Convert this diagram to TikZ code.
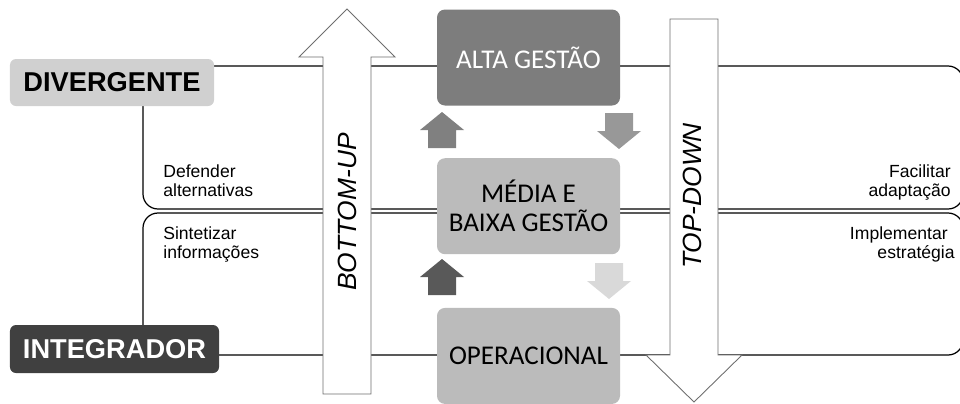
\documentclass[tikz,border=0pt]{standalone}
\usepackage{fontspec}
\setmainfont{Liberation Sans}
\newfontfamily\boxfont{Carlito}
\definecolor{altaGray}{RGB}{125,125,125}
\definecolor{mediaGray}{RGB}{187,187,187}
\definecolor{divGray}{RGB}{208,208,208}
\definecolor{intGray}{RGB}{64,64,64}
\definecolor{edgeGray}{RGB}{110,110,110}
\definecolor{upMid}{RGB}{128,128,128}
\definecolor{downMid}{RGB}{152,152,152}
\definecolor{upDark}{RGB}{89,89,89}
\definecolor{downLight}{RGB}{217,217,217}
\usetikzlibrary{positioning}

\tikzset{
  levelbox/.style={rounded corners=1.6mm, minimum width=36.6mm, minimum height=19.2mm,
    align=center, inner sep=0pt, font=\boxfont\fontsize{15.4}{16.5}\selectfont},
  rolebox/.style={rounded corners=1.2mm, inner sep=0pt, font=\bfseries\fontsize{15.5}{18}\selectfont},
  bracket/.style={draw=black, line width=0.7pt, rounded corners=3mm},
  bigarrow/.style={draw=edgeGray, fill=white, line width=0.5pt},
  note/.style={inner sep=0pt, font=\fontsize{10}{11}\selectfont},
  flowlabel/.style={inner sep=0pt, rotate=90, font=\itshape\fontsize{15}{18}\selectfont},
  upblock/.pic={\fill (-14,18) -- (-14,0) -- (-22,0) -- (0,-18) -- (22,0) -- (14,0) -- (14,18) -- cycle;}
}

\begin{document}
\begin{tikzpicture}[x=0.2mm, y=-0.2mm]
    \useasboundingbox (0,0) rectangle (960,403);
    \clip (0,0) rectangle (960,403);

    % the two bands
    \draw[bracket] (143,66) rectangle (963,209);
    \draw[bracket] (143,213) rectangle (963,355);

    % big hollow arrows
    \draw[bigarrow] (323,394) -- (323,57) -- (299,57) -- (347,9) -- (395,57) -- (371,57) -- (371,394) -- cycle;
    \draw[bigarrow] (670,19) -- (670,355) -- (646,355) -- (694,402) -- (742,355) -- (718,355) -- (718,19) -- cycle;
    \node[flowlabel] (bottomup) at (347,212) {BOTTOM-UP};
    \node[flowlabel] (topdown) at (692,196) {TOP-DOWN};

    % levels
    \node[levelbox, fill=altaGray, text=white] (alta) at (528.5,57.5) {ALTA GESTÃO};
    \node[levelbox, fill=mediaGray, below=10.4mm of alta] (media) {MÉDIA E\\BAIXA GESTÃO};
    \node[levelbox, fill=mediaGray, below=10.6mm of media] (oper) {OPERACIONAL};

    \pic[fill=upMid] at (442,130) {upblock};
    \pic[fill=downMid, rotate=180] at (619,131) {upblock};
    \pic[fill=upDark] at (442,277) {upblock};
    \pic[fill=downLight, rotate=180] at (609,281) {upblock};

    % roles
    \node[rolebox, fill=divGray, minimum width=40.8mm, minimum height=9.4mm] (div) at (112,82.5) {DIVERGENTE};
    \node[rolebox, fill=intGray, text=white, minimum width=41.8mm, minimum height=9.6mm] (int) at (114.5,349) {INTEGRADOR};

    \node[note, anchor=north west, align=left] (defender) at (163,164) {Defender\\alternativas};
    \node[note, anchor=north west, align=left] (sintetizar) at (163,226) {Sintetizar\\informações};
    \node[note, anchor=north east, align=right] (facilitar) at (951,164) {Facilitar\\adaptação};
    \node[note, anchor=north east, align=right] (implementar) at (955,226) {Implementar\kern1.4mm\\estratégia};
\end{tikzpicture}
\end{document}
